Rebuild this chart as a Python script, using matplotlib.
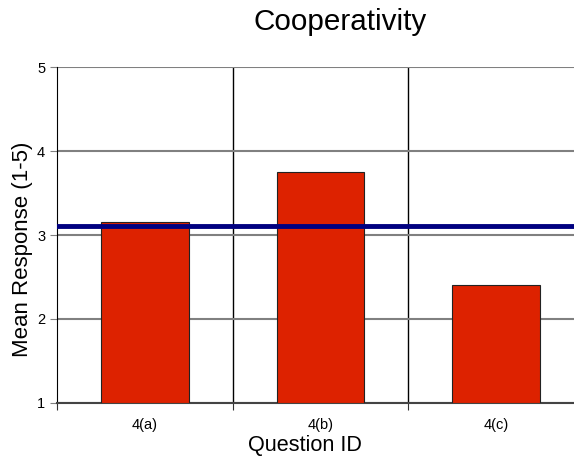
import numpy as np
import matplotlib
matplotlib.use("Agg")
import matplotlib.pyplot as plt

plt.rcParams["font.family"] = ["Liberation Sans", "DejaVu Sans"]

questions = ["4(a)", "4(b)", "4(c)"]
mean_response = [3.15, 3.75, 2.40]
overall_mean = 3.11

fig = plt.figure(figsize=(5.74, 4.59), dpi=100)
# plot area runs past the right edge of the figure
ax = fig.add_axes([57 / 574, 1 - 403 / 459, 527 / 574, 336 / 459])

x = np.arange(len(questions))
ax.bar(x, np.array(mean_response) - 1, bottom=1, width=0.5,
       color="#dd2200", edgecolor="#222222", linewidth=0.8, zorder=3)
ax.axhline(overall_mean, color="#000080", lw=3.5, zorder=4)

ax.set_xlim(-0.5, len(questions) - 0.5)
ax.set_ylim(1, 5)
ax.set_yticks([1, 2, 3, 4, 5])
ax.yaxis.grid(True, color="#808080", lw=1.5, zorder=0)

# category separators
for b in x[:-1] + 0.5:
    ax.axvline(b, color="black", lw=1, zorder=1)
ax.set_xticks(np.arange(-0.5, len(questions)), minor=False)
ax.set_xticklabels([])
ax.set_xticks(x, minor=True)
ax.set_xticklabels(questions, minor=True, fontsize=10.5)
ax.tick_params(axis="x", which="major", length=5, color="#333333")
ax.tick_params(axis="x", which="minor", length=0, pad=11)
ax.tick_params(axis="y", length=5, color="#808080", labelsize=10.5)

for side in ["top", "right"]:
    ax.spines[side].set_visible(False)
ax.spines["left"].set_color("black")
ax.spines["bottom"].set_color("#444444")
ax.spines["bottom"].set_linewidth(1.5)

fig.text(340 / 574, 1 - 22 / 459, "Cooperativity", ha="center", va="center", fontsize=21.3)
fig.text(305 / 574, 1 - 446 / 459, "Question ID", ha="center", va="center", fontsize=15.6)
fig.text(23 / 574, 1 - 249 / 459, "Mean Response (1-5)", ha="center", va="center",
         rotation=90, fontsize=16)

fig.savefig("out.png", dpi=100)
